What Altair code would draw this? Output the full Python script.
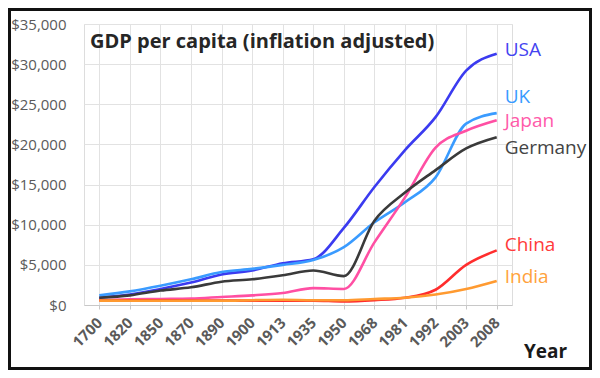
import altair as alt
import pandas as pd

years = ["1700", "1820", "1850", "1870", "1890", "1900", "1913", "1935",
         "1950", "1968", "1981", "1992", "2003", "2008"]
countries = ["USA", "UK", "Japan", "Germany", "China", "India"]
usa = [900, 1300, 2000, 2800, 3800, 4300, 5200, 5700, 9600, 14700, 19300, 23400, 29200, 31300]
uk = [1200, 1700, 2400, 3200, 4100, 4500, 5000, 5600, 7200, 10300, 12800, 15900, 22600, 23900]
japan = [600, 700, 750, 800, 1000, 1200, 1500, 2100, 2000, 7800, 13400, 19600, 21700, 23000]
germany = [900, 1200, 1800, 2200, 2900, 3200, 3700, 4300, 3600, 10500, 14000, 16800, 19500, 20900]
china = [600, 600, 600, 550, 550, 550, 550, 550, 450, 600, 900, 1900, 5000, 6800]
india = [550, 530, 530, 530, 530, 600, 650, 600, 600, 750, 900, 1300, 2000, 3000]
series = [usa, uk, japan, germany, china, india]
line_colors = ["#3b3bf0", "#3a9bff", "#ff4fa3", "#3a3a3a", "#ff2d2d", "#ff9a30"]
label_colors = ["#4444f0", "#3a9bff", "#ff5aaa", "#444444", "#ff3a3a", "#ffa23c"]
label_values = [31800, 25900, 22900, 19500, 7500, 3500]

title_text = "GDP per capita (inflation adjusted)"
x_title = "Year"

W, H = 428, 281
PL, PT, PR, PB = 76, 16, 80, 65
FONT = "Open Sans"

rows = []
for c, vals in zip(countries, series):
    for y, v in zip(years, vals):
        rows.append({"Year": y, "Country": c, "GDP": v})
df = pd.DataFrame(rows)

lab = pd.DataFrame({"Country": countries, "Year": [years[-1]] * len(countries),
                    "LabelY": label_values})

xs = alt.Scale(type="point", domain=years, padding=0.5)
ys = alt.Scale(domain=[0, 35000])
cs = alt.Scale(domain=countries, range=line_colors)

lines = alt.Chart(df).mark_line(strokeWidth=2.6, interpolate="monotone").encode(
    x=alt.X("Year:O", scale=xs, sort=years, axis=alt.Axis(
        title=None, labelAngle=-45, labelAlign="right", labelBaseline="middle",
        labelFontSize=15, labelFontWeight="bold", labelColor="#5a5a5a", labelFont=FONT,
        labelPadding=11, grid=True, gridColor="#e2e2e2", domainColor="#c8c8c8",
        tickColor="#c8c8c8", tickSize=4)),
    y=alt.Y("GDP:Q", scale=ys, axis=alt.Axis(
        title=None, values=list(range(0, 35001, 5000)), format="$,.0f",
        labelFontSize=15, labelColor="#5a5a5a", labelFont=FONT, labelPadding=18,
        ticks=False, domain=False, grid=True, gridColor="#e2e2e2")),
    color=alt.Color("Country:N", scale=cs, legend=None),
)

labels = alt.Chart(lab).mark_text(align="left", baseline="middle", dx=8,
                                   fontSize=19, font=FONT).encode(
    x=alt.X("Year:O", scale=xs, sort=years),
    y=alt.Y("LabelY:Q", scale=ys),
    text="Country:N",
    color=alt.Color("Country:N", scale=alt.Scale(domain=countries, range=label_colors),
                    legend=None),
)

one = pd.DataFrame({"t": [title_text], "x": [x_title]})
title = alt.Chart(one).mark_text(align="left", baseline="middle", fontSize=20,
                                 fontWeight="bold", font=FONT, color="#262626").encode(
    x=alt.value(6), y=alt.value(18), text="t:N")
xt = alt.Chart(one).mark_text(align="left", baseline="middle", fontSize=19,
                              fontWeight="bold", font=FONT, color="#1a1a1a").encode(
    x=alt.value(440), y=alt.value(328), text="x:N")
frame = alt.Chart(one).mark_rect(fill=None, stroke="#111111", strokeWidth=3).encode(
    x=alt.value(-PL + 1.5), x2=alt.value(W + PR - 1.5),
    y=alt.value(-PT + 1.5), y2=alt.value(H + PB - 1.5))

chart = alt.layer(lines, labels, title, xt, frame).resolve_scale(color="independent").properties(
    width=W, height=H,
    autosize=alt.AutoSizeParams(type="none"),
    padding={"left": PL, "top": PT, "right": PR, "bottom": PB},
).configure_view(stroke=None).configure(background="white")

chart.save("out.html", embed_options={"renderer": "svg", "actions": False})
